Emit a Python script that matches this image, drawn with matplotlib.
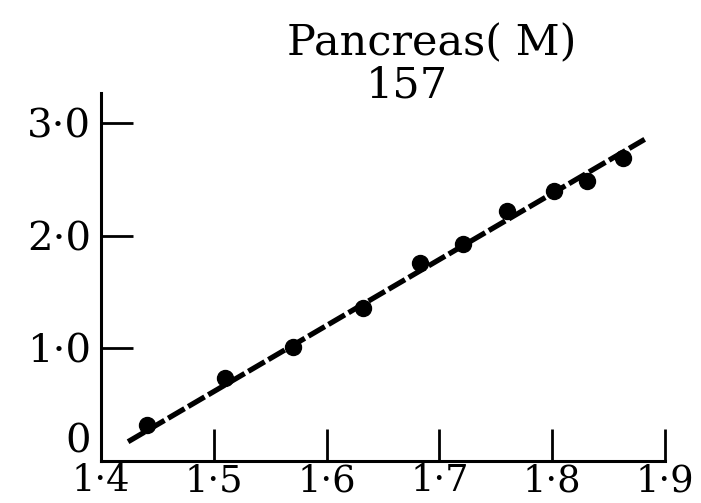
import matplotlib.pyplot as plt

# data
x_pts = [1.4405, 1.510, 1.5705, 1.6325, 1.6828, 1.7212, 1.7602, 1.8016, 1.8311, 1.8630]
y_pts = [0.316, 0.731, 1.006, 1.358, 1.753, 1.924, 2.218, 2.396, 2.484, 2.686]

# fitted line ends
fit_x = [1.424, 1.882]
fit_y = [0.167, 2.855]

xticks = [1.4, 1.5, 1.6, 1.7, 1.8, 1.9]
xtick_labels = ['1·4', '1·5', '1·6', '1·7', '1·8', '1·9']
yticks = [0, 1, 2, 3]
ytick_labels = ['0', '1·0', '2·0', '3·0']

plt.rcParams['font.family'] = ['DejaVu Serif']

fig = plt.figure(figsize=(7.01, 5.03), dpi=100)
ax = fig.add_axes([101 / 701, 1 - 460.5 / 503, 564 / 701, 367.5 / 503])

line, = ax.plot(fit_x, fit_y, color='black', linewidth=3.8, solid_capstyle='butt')
line.set_dashes((3.6, 0.8))
ax.plot(x_pts, y_pts, 'o', color='black', markersize=11.5, zorder=3)

ax.set_xlim(1.4, 1.9)
ax.set_ylim(0, 3.267)

for side in ['top', 'right']:
    ax.spines[side].set_visible(False)
for side in ['left', 'bottom']:
    ax.spines[side].set_linewidth(2.2)

ax.set_xticks(xticks)
ax.set_xticklabels(xtick_labels, fontsize=26.5)
ax.set_yticks(yticks)
ax.set_yticklabels(ytick_labels, fontsize=29)
ax.tick_params(direction='in', length=23, width=2.0)
ax.tick_params(axis='x', pad=2)
ax.tick_params(axis='y', pad=7)
ax.get_yticklabels()[0].set_verticalalignment('bottom')

fig.text(432 / 701, 1 - 55 / 503, 'Pancreas( M)', fontsize=31, ha='center', va='baseline')
fig.text(407 / 701, 1 - 98 / 503, '157', fontsize=31, ha='center', va='baseline')

fig.savefig('out.png', dpi=100)
